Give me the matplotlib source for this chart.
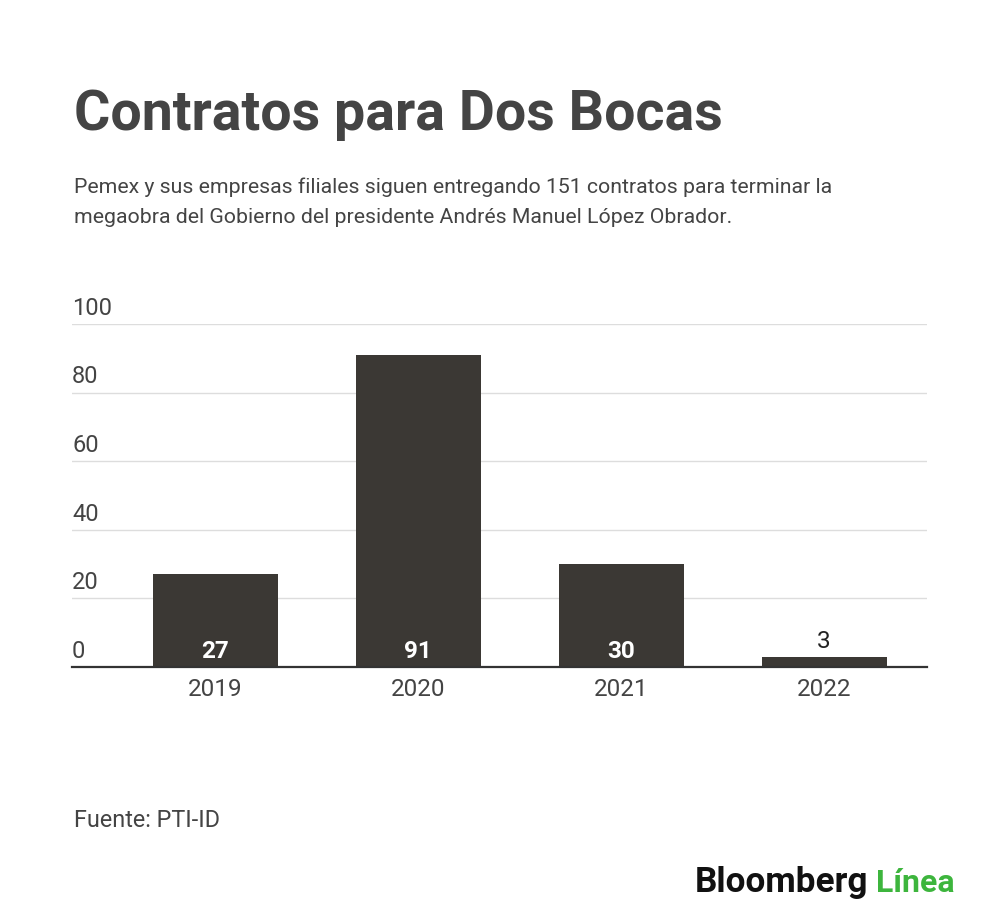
import matplotlib
matplotlib.use("Agg")
import matplotlib.pyplot as plt
import numpy as np

years = ["2019", "2020", "2021", "2022"]
contracts = [27, 91, 30, 3]
yticks = [0, 20, 40, 60, 80, 100]

title = "Contratos para Dos Bocas"
subtitle_lines = ["Pemex y sus empresas filiales siguen entregando 151 contratos para terminar la",
                  "megaobra del Gobierno del presidente Andrés Manuel López Obrador."]
source = "Fuente: PTI-ID"

plt.rcParams['font.family'] = ['Roboto', 'DejaVu Sans']

W, H = 1000, 924
fig = plt.figure(figsize=(W/100, H/100), dpi=100)
fig.patch.set_facecolor('white')

def fx(px): return px / W
def fy(py): return 1 - py / H

ax_left, ax_right = 72, 927
ax_bottom, ax_top = 667, 324
ax = fig.add_axes([fx(ax_left), fy(ax_bottom), fx(ax_right - ax_left), fy(ax_top) - fy(ax_bottom)])

bar_color = '#3b3834'
x = np.arange(len(years))
ax.bar(x, contracts, width=0.615, color=bar_color, zorder=3)
ax.set_xlim(-0.707, 3.507)
ax.set_ylim(0, 100)

for s in ['top', 'right', 'left']:
    ax.spines[s].set_visible(False)
ax.spines['bottom'].set_color('#333333')
ax.spines['bottom'].set_linewidth(1.6)
ax.spines['bottom'].set_zorder(4)

ax.set_yticks(yticks)
ax.yaxis.grid(True, color='#dddddd', linewidth=1, zorder=0)
ax.tick_params(axis='y', length=0, labelleft=False)
for t in yticks:
    ax.annotate(str(t), xy=(0, t), xycoords=('axes fraction', 'data'),
                xytext=(0, 3), textcoords='offset points', ha='left', va='bottom',
                fontsize=17, color='#444444')

ax.set_xticks(x)
ax.set_xticklabels(years, fontsize=17.5, color='#444444')
ax.tick_params(axis='x', length=0, pad=8)

for xi, v in zip(x, contracts):
    if v >= 10:
        ax.annotate(str(v), xy=(xi, 0), xytext=(0, 3), textcoords='offset points',
                    ha='center', va='bottom', fontsize=17.5, fontweight='bold', color='white', zorder=5)
    else:
        ax.annotate(str(v), xy=(xi, v), xytext=(0, 3), textcoords='offset points',
                    ha='center', va='bottom', fontsize=17.5, color='#222222', zorder=5)

fig.text(fx(74), fy(130), title, fontsize=40, fontweight='bold', color='#444444',
         ha='left', va='baseline')
for i, ln in enumerate(subtitle_lines):
    fig.text(fx(74), fy(193 + i * 30), ln, fontsize=15.3, color='#444444', ha='left', va='baseline')

fig.text(fx(74), fy(827), source, fontsize=16.8, color='#444444', ha='left', va='baseline')

fig.text(fx(695), fy(892), "Bloomberg", fontsize=25.3, fontweight='bold', color='#111111',
         ha='left', va='baseline')
fig.text(fx(955), fy(892), "Línea", fontsize=23, fontweight='bold', color='#3db53d',
         ha='right', va='baseline')

fig.savefig("out.png", dpi=100, facecolor='white')
